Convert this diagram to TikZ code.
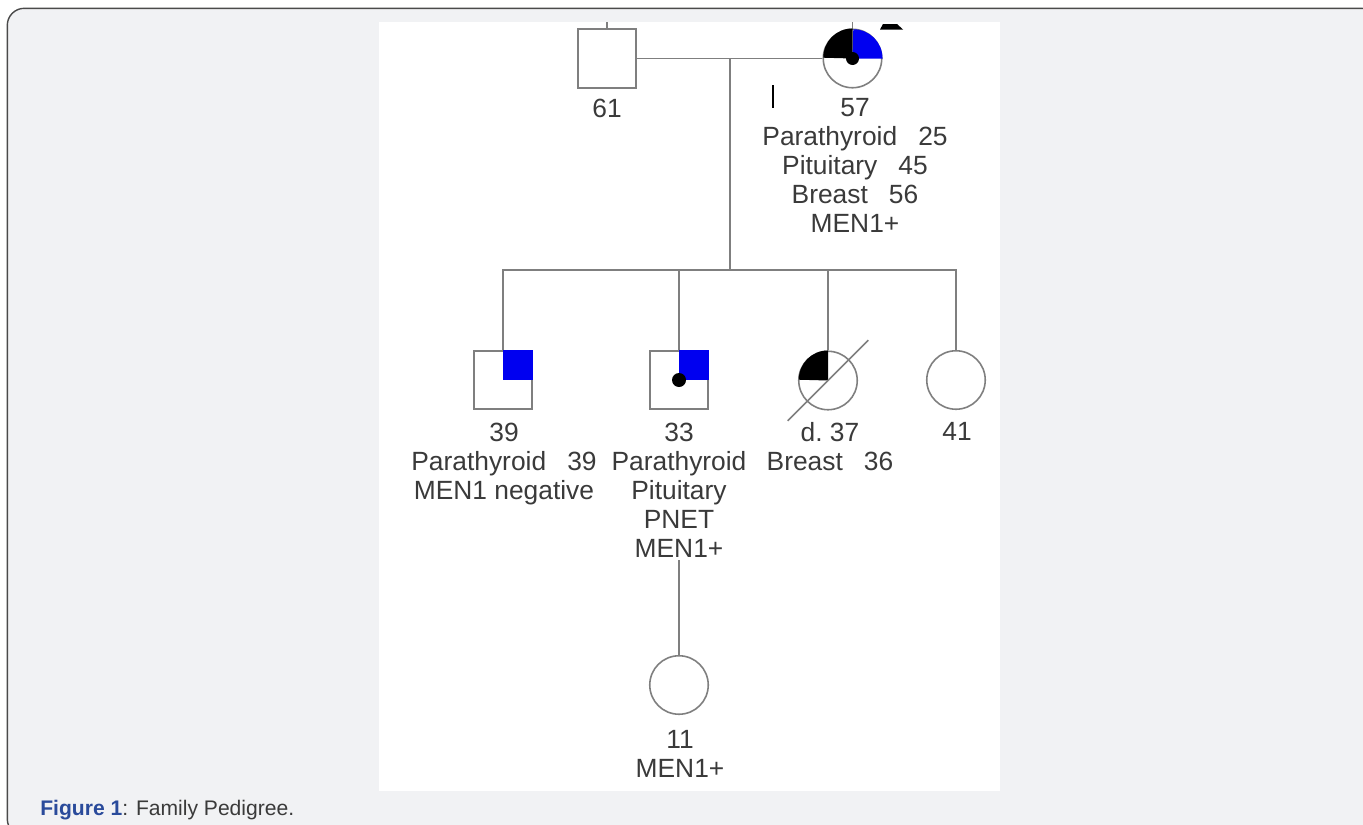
\documentclass[tikz,border=0pt]{standalone}
\usepackage{xcolor}
\usepackage{fontspec}
\setmainfont{Liberation Sans}
\usetikzlibrary{calc}

\definecolor{pedline}{HTML}{7F7F7F}
\definecolor{pedtext}{HTML}{3A3A3A}
\definecolor{pedblue}{HTML}{0000F0}
\definecolor{panelgray}{HTML}{F1F2F4}
\definecolor{framegray}{HTML}{4A4A4A}
\definecolor{capblue}{HTML}{2A4B9B}

\begin{document}
\begin{tikzpicture}[x=0.02cm,y=-0.02cm,
    male/.style={draw=pedline,line width=0.9pt,rectangle,minimum size=1.17cm,inner sep=0pt},
    female/.style={draw=pedline,line width=0.9pt,circle,minimum size=1.17cm,inner sep=0pt},
    link/.style={draw=pedline,line width=0.9pt},
    lbl/.style={text=pedtext,font=\fontsize{15}{16.5}\selectfont,align=center,anchor=north,inner sep=0pt}]

          \useasboundingbox (0,0) rectangle (1363,825);
          \clip (0,0) rectangle (1363,825);

          % frame and white panel
          \draw[framegray,fill=panelgray,line width=0.8pt,rounded corners=0.34cm] (7.3,8.3) rectangle (1378,836);
          \fill[white] (379,22) rectangle (1000,791);

          % parents
          \node[male] (dad) at (607,58.5) {};
          \node[female] (mum) at (852.5,58.5) {};
          \fill (mum.center) -- (mum.north) arc[start angle=90,end angle=180,radius=0.585cm] -- cycle;
          \fill[pedblue] (mum.center) -- (mum.east) arc[start angle=0,end angle=90,radius=0.585cm] -- cycle;
          \fill (mum.center) circle[radius=0.13cm];
          \coordinate (dadtop) at (607,22);
          \coordinate (mumtop) at (852.5,22);
          \draw[link] (dad.north) -- (dadtop);
          \draw[link] (mum.north) -- (mumtop);
          \fill (880,29.5) -- (883,24) -- (897,24) -- (903,29.5) -- cycle;
          \fill (771.5,85) rectangle (774,108);

          \coordinate (mid) at (730,58.5);
          \coordinate (sib) at (730,270);
          \draw[link] (dad.east) -- (mum.west);
          \draw[link] (mid) -- (sib);

          \node[lbl] at (607,98.5) {61};
          \node[lbl] at (855,98.5) {57\\Parathyroid\hspace{0.8em}25\\Pituitary\hspace{0.8em}45\\Breast\hspace{0.8em}56\\MEN1+};

          % children
          \node[male] (son1) at (503,380) {};
          \node[male] (son2) at (679,380) {};
          \node[female] (dau1) at (828,380.5) {};
          \node[female] (dau2) at (956,380) {};
          \fill[pedblue] (son1.center) rectangle (son1.north east);
          \fill[pedblue] (son2.center) rectangle (son2.north east);
          \fill (son2.center) circle[radius=0.14cm];
          \fill (dau1.center) -- (dau1.north) arc[start angle=90,end angle=180,radius=0.585cm] -- cycle;
          \draw[link] ($(dau1.center)!1.9!(dau1.225)$) -- ($(dau1.center)!1.9!(dau1.45)$);

          \draw[link] (son1.north) |- (sib) -| (dau2.north);
          \draw[link] (son2.north) -- (son2.north |- sib);
          \draw[link] (dau1.north) -- (dau1.north |- sib);

          \node[lbl] at (504,422.5) {39\\Parathyroid\hspace{0.8em}39\\MEN1 negative};
          \node[lbl] at (679,422.5) {33\\Parathyroid\\Pituitary\\PNET\\MEN1+};
          \node[lbl] at (830,422.5) {d.\ 37\\Breast\hspace{0.8em}36};
          \node[lbl] at (957,422.5) {41};

          % grandchild
          \node[female] (gdau) at (679,685) {};
          \coordinate (son2foot) at (679,560);
          \draw[link] (son2foot) -- (gdau.north);
          \node[lbl] at (680,730.5) {11\\MEN1+};

          \node[anchor=base west,inner sep=0pt,text=pedtext,font=\fontsize{12}{14}\selectfont] at (40,815)
               {\textcolor{capblue}{\textbf{Figure 1}}: Family Pedigree.};

          \end{tikzpicture}
\end{document}
